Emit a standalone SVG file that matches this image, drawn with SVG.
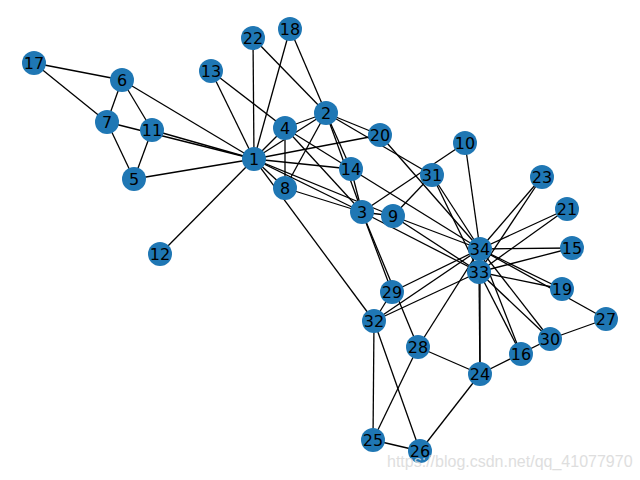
<svg xmlns="http://www.w3.org/2000/svg" width="640" height="480" viewBox="0 0 640 480">
<style>
.e line{stroke:#000;stroke-width:1.3}
.n circle{fill:#1f77b4}
.n text{font-family:"DejaVu Sans",sans-serif;font-size:16px;fill:#000;text-anchor:middle;dominant-baseline:central}
.wm{font-family:"Liberation Sans",Arial,sans-serif;font-size:16px;fill:#d9d9d9;opacity:0.85}
</style>
<rect width="640" height="480" fill="#fff"/>
<g id="edges" class="e">
<line x1="254" y1="159" x2="326" y2="113"/>
<line x1="254" y1="159" x2="362" y2="212"/>
<line x1="254" y1="159" x2="285" y2="128"/>
<line x1="254" y1="159" x2="134" y2="179"/>
<line x1="254" y1="159" x2="122" y2="80"/>
<line x1="254" y1="159" x2="107" y2="122"/>
<line x1="254" y1="159" x2="285" y2="188"/>
<line x1="254" y1="159" x2="393" y2="216"/>
<line x1="254" y1="159" x2="152" y2="130"/>
<line x1="254" y1="159" x2="160" y2="254"/>
<line x1="254" y1="159" x2="211" y2="71"/>
<line x1="254" y1="159" x2="351" y2="169"/>
<line x1="254" y1="159" x2="290" y2="29"/>
<line x1="254" y1="159" x2="380" y2="135"/>
<line x1="254" y1="159" x2="253" y2="38"/>
<line x1="254" y1="159" x2="374" y2="321"/>
<line x1="326" y1="113" x2="362" y2="212"/>
<line x1="326" y1="113" x2="285" y2="128"/>
<line x1="326" y1="113" x2="285" y2="188"/>
<line x1="326" y1="113" x2="351" y2="169"/>
<line x1="326" y1="113" x2="290" y2="29"/>
<line x1="326" y1="113" x2="380" y2="135"/>
<line x1="326" y1="113" x2="253" y2="38"/>
<line x1="326" y1="113" x2="432" y2="175"/>
<line x1="362" y1="212" x2="285" y2="128"/>
<line x1="362" y1="212" x2="285" y2="188"/>
<line x1="362" y1="212" x2="393" y2="216"/>
<line x1="362" y1="212" x2="465" y2="143"/>
<line x1="362" y1="212" x2="351" y2="169"/>
<line x1="362" y1="212" x2="418" y2="347"/>
<line x1="362" y1="212" x2="392" y2="292"/>
<line x1="362" y1="212" x2="479" y2="272"/>
<line x1="285" y1="128" x2="285" y2="188"/>
<line x1="285" y1="128" x2="211" y2="71"/>
<line x1="285" y1="128" x2="351" y2="169"/>
<line x1="134" y1="179" x2="107" y2="122"/>
<line x1="134" y1="179" x2="152" y2="130"/>
<line x1="122" y1="80" x2="107" y2="122"/>
<line x1="122" y1="80" x2="152" y2="130"/>
<line x1="122" y1="80" x2="34" y2="63"/>
<line x1="107" y1="122" x2="34" y2="63"/>
<line x1="393" y1="216" x2="432" y2="175"/>
<line x1="393" y1="216" x2="479" y2="272"/>
<line x1="393" y1="216" x2="480" y2="249"/>
<line x1="465" y1="143" x2="480" y2="249"/>
<line x1="351" y1="169" x2="480" y2="249"/>
<line x1="572" y1="248" x2="479" y2="272"/>
<line x1="572" y1="248" x2="480" y2="249"/>
<line x1="521" y1="354" x2="479" y2="272"/>
<line x1="521" y1="354" x2="480" y2="249"/>
<line x1="562" y1="289" x2="479" y2="272"/>
<line x1="562" y1="289" x2="480" y2="249"/>
<line x1="380" y1="135" x2="480" y2="249"/>
<line x1="567" y1="209" x2="479" y2="272"/>
<line x1="567" y1="209" x2="480" y2="249"/>
<line x1="542" y1="177" x2="479" y2="272"/>
<line x1="542" y1="177" x2="480" y2="249"/>
<line x1="480" y1="374" x2="420" y2="451"/>
<line x1="480" y1="374" x2="418" y2="347"/>
<line x1="480" y1="374" x2="550" y2="339"/>
<line x1="480" y1="374" x2="479" y2="272"/>
<line x1="480" y1="374" x2="480" y2="249"/>
<line x1="373" y1="440" x2="420" y2="451"/>
<line x1="373" y1="440" x2="418" y2="347"/>
<line x1="373" y1="440" x2="374" y2="321"/>
<line x1="420" y1="451" x2="374" y2="321"/>
<line x1="606" y1="319" x2="550" y2="339"/>
<line x1="606" y1="319" x2="480" y2="249"/>
<line x1="418" y1="347" x2="480" y2="249"/>
<line x1="392" y1="292" x2="374" y2="321"/>
<line x1="392" y1="292" x2="480" y2="249"/>
<line x1="550" y1="339" x2="479" y2="272"/>
<line x1="550" y1="339" x2="480" y2="249"/>
<line x1="432" y1="175" x2="479" y2="272"/>
<line x1="432" y1="175" x2="480" y2="249"/>
<line x1="374" y1="321" x2="479" y2="272"/>
<line x1="374" y1="321" x2="480" y2="249"/>
<line x1="479" y1="272" x2="480" y2="249"/>
</g>
<g id="n1" class="n"><circle cx="254" cy="159" r="12"/><text x="254" y="159">1</text></g>
<g id="n2" class="n"><circle cx="326" cy="113" r="12"/><text x="326" y="113">2</text></g>
<g id="n3" class="n"><circle cx="362" cy="212" r="12"/><text x="362" y="212">3</text></g>
<g id="n4" class="n"><circle cx="285" cy="128" r="12"/><text x="285" y="128">4</text></g>
<g id="n5" class="n"><circle cx="134" cy="179" r="12"/><text x="134" y="179">5</text></g>
<g id="n6" class="n"><circle cx="122" cy="80" r="12"/><text x="122" y="80">6</text></g>
<g id="n7" class="n"><circle cx="107" cy="122" r="12"/><text x="107" y="122">7</text></g>
<g id="n8" class="n"><circle cx="285" cy="188" r="12"/><text x="285" y="188">8</text></g>
<g id="n9" class="n"><circle cx="393" cy="216" r="12"/><text x="393" y="216">9</text></g>
<g id="n10" class="n"><circle cx="465" cy="143" r="12"/><text x="465" y="143">10</text></g>
<g id="n11" class="n"><circle cx="152" cy="130" r="12"/><text x="152" y="130">11</text></g>
<g id="n12" class="n"><circle cx="160" cy="254" r="12"/><text x="160" y="254">12</text></g>
<g id="n13" class="n"><circle cx="211" cy="71" r="12"/><text x="211" y="71">13</text></g>
<g id="n14" class="n"><circle cx="351" cy="169" r="12"/><text x="351" y="169">14</text></g>
<g id="n15" class="n"><circle cx="572" cy="248" r="12"/><text x="572" y="248">15</text></g>
<g id="n16" class="n"><circle cx="521" cy="354" r="12"/><text x="521" y="354">16</text></g>
<g id="n17" class="n"><circle cx="34" cy="63" r="12"/><text x="34" y="63">17</text></g>
<g id="n18" class="n"><circle cx="290" cy="29" r="12"/><text x="290" y="29">18</text></g>
<g id="n19" class="n"><circle cx="562" cy="289" r="12"/><text x="562" y="289">19</text></g>
<g id="n20" class="n"><circle cx="380" cy="135" r="12"/><text x="380" y="135">20</text></g>
<g id="n21" class="n"><circle cx="567" cy="209" r="12"/><text x="567" y="209">21</text></g>
<g id="n22" class="n"><circle cx="253" cy="38" r="12"/><text x="253" y="38">22</text></g>
<g id="n23" class="n"><circle cx="542" cy="177" r="12"/><text x="542" y="177">23</text></g>
<g id="n24" class="n"><circle cx="480" cy="374" r="12"/><text x="480" y="374">24</text></g>
<g id="n25" class="n"><circle cx="373" cy="440" r="12"/><text x="373" y="440">25</text></g>
<g id="n26" class="n"><circle cx="420" cy="451" r="12"/><text x="420" y="451">26</text></g>
<g id="n27" class="n"><circle cx="606" cy="319" r="12"/><text x="606" y="319">27</text></g>
<g id="n28" class="n"><circle cx="418" cy="347" r="12"/><text x="418" y="347">28</text></g>
<g id="n29" class="n"><circle cx="392" cy="292" r="12"/><text x="392" y="292">29</text></g>
<g id="n30" class="n"><circle cx="550" cy="339" r="12"/><text x="550" y="339">30</text></g>
<g id="n31" class="n"><circle cx="432" cy="175" r="12"/><text x="432" y="175">31</text></g>
<g id="n32" class="n"><circle cx="374" cy="321" r="12"/><text x="374" y="321">32</text></g>
<g id="n33" class="n"><circle cx="479" cy="272" r="12"/><text x="479" y="272">33</text></g>
<g id="n34" class="n"><circle cx="480" cy="249" r="12"/><text x="480" y="249">34</text></g>
<text class="wm" x="387" y="467">https://blog.csdn.net/qq_41077970</text>
</svg>
